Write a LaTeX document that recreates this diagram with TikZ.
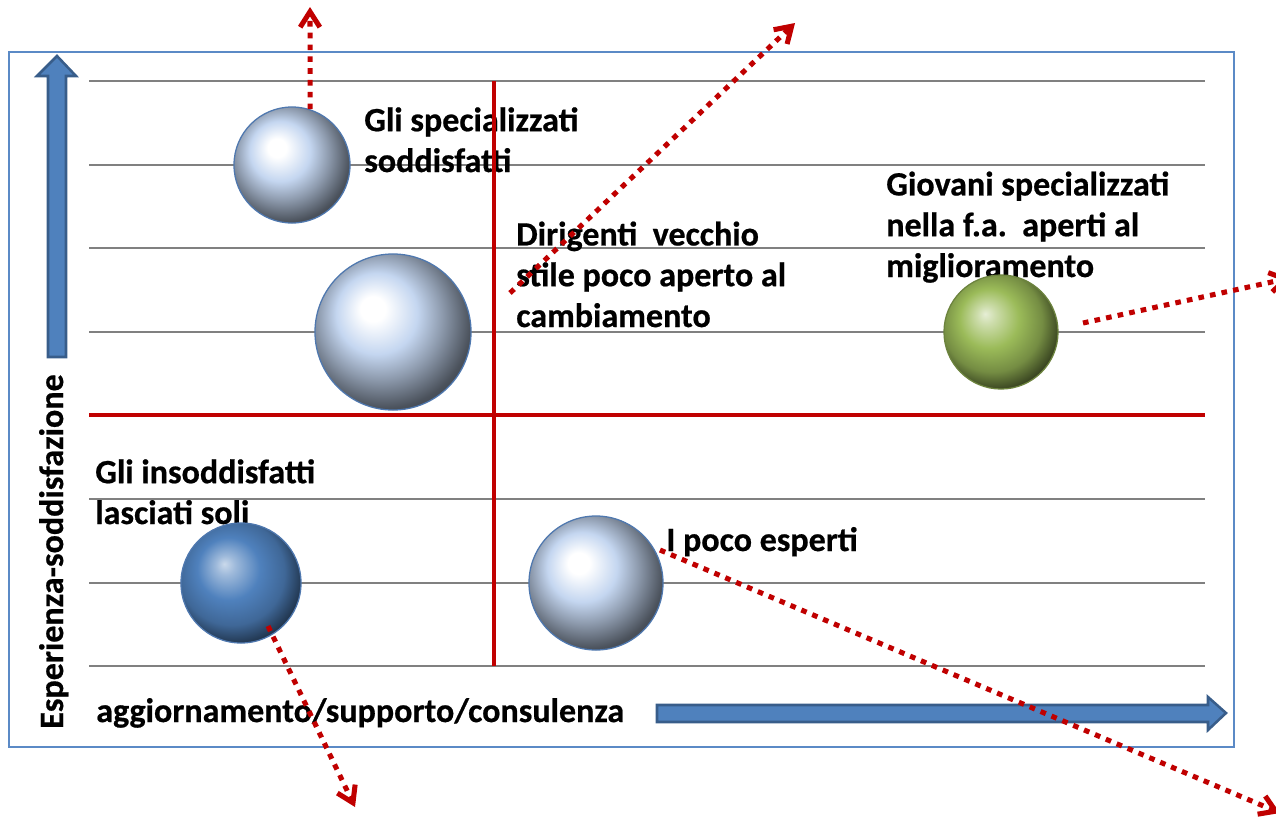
\documentclass[tikz,border=0pt]{standalone}
\usepackage{fontspec}
\setmainfont{Carlito}[BoldFeatures={FakeBold=0.6}]
\usepackage{tikz}
\usetikzlibrary{arrows.meta}

\definecolor{framecol}{RGB}{91,138,198}
\definecolor{gridcol}{RGB}{128,128,128}
\definecolor{quadred}{RGB}{192,0,0}
\definecolor{axisfill}{RGB}{79,129,189}
\definecolor{axisedge}{RGB}{56,93,138}
\definecolor{paleball}{RGB}{196,214,240}
\definecolor{darkball}{RGB}{79,129,189}
\definecolor{greenball}{RGB}{155,187,89}
\definecolor{ballrim}{RGB}{79,120,175}

\pgfdeclareradialshading{paleglass}{\pgfpoint{-7bp}{8bp}}{color(0bp)=(white); color(4bp)=(white);
    color(13bp)=(paleball); color(20bp)=(paleball!72!black); color(28bp)=(paleball!38!black); color(50bp)=(black)}
\pgfdeclareradialshading{darkglass}{\pgfpoint{-7bp}{8bp}}{color(0bp)=(darkball!30!white); color(4bp)=(darkball!55!white);
    color(13bp)=(darkball); color(22bp)=(darkball!80!black); color(30bp)=(darkball!35!black); color(50bp)=(black)}
\pgfdeclareradialshading{greenglass}{\pgfpoint{-7bp}{8bp}}{color(0bp)=(greenball!25!white); color(4bp)=(greenball!50!white);
    color(13bp)=(greenball); color(22bp)=(greenball!75!black); color(30bp)=(greenball!30!black); color(50bp)=(black)}

\begin{document}
\begin{tikzpicture}[x=0.025cm, y=-0.025cm,
    gridline/.style={draw=gridcol, line width=1.5pt},
    quadline/.style={draw=quadred, line width=3.5pt},
    axisarrow/.style={fill=axisfill, draw=axisedge, line width=1.8pt, line join=miter},
    sphere/.style={circle, inner sep=0pt, draw=ballrim, line width=0.9pt, shading=#1},
    lbl/.style={font=\fontsize{24.2}{29}\selectfont\bfseries, inner sep=0pt, align=left, anchor=base west},
    trend/.style={draw=quadred, line width=3.6pt, dash pattern=on 4pt off 4.4pt,
        -{Straight Barb[length=11pt, width=14pt, line width=3.6pt]}}]
    \useasboundingbox (0,0) rectangle (1276,818);
    \draw[draw=framecol, line width=1.2pt] (9,52) rectangle (1234,747);
    \foreach \y in {81,165,248,332,499,583,666}
        \draw[gridline] (89,\y) -- (1205,\y);

    \node[lbl] (tsatisfied) at (364,172) {Gli specializzati\\soddisfatti};
    \node[lbl] (tmanagers) at (516,327) {Dirigenti\ \ vecchio\\stile poco aperto al\\cambiamento};
    \node[lbl] (tyoung) at (886,277) {Giovani specializzati\\nella f.a.\ \ aperti al\\miglioramento};
    \node[lbl] (talone) at (95,524) {Gli insoddisfatti\\lasciati soli};
    \node[lbl] (tnovices) at (666,551) {I poco esperti};
    \node[lbl] (xlabel) at (96,722) {aggiornamento/supporto/consulenza};
    \node[lbl, rotate=90] (ylabel) at (63,729) {Esperienza-soddisfazione};

    \draw[quadline] (89,415) -- (1205,415);
    \draw[quadline] (494,81) -- (494,666);

    \node[sphere=paleglass, minimum size=2.9cm] (satisfied) at (292,165) {};
    \node[sphere=paleglass, minimum size=3.9cm] (managers) at (393,332) {};
    \node[sphere=greenglass, draw=greenball!70!black, minimum size=2.85cm] (young) at (1001,332) {};
    \node[sphere=darkglass, minimum size=3cm] (alone) at (241,583) {};
    \node[sphere=paleglass, minimum size=3.35cm] (novices) at (596,583) {};

    \draw[axisarrow] (48,357) -- (48,76) -- (37,76) -- (57,56) -- (76,76) -- (66,76) -- (66,357) -- cycle;
    \draw[axisarrow] (657,705) -- (1208,705) -- (1208,697) -- (1226,713) -- (1208,730) -- (1208,722) -- (657,722) -- cycle;

    \coordinate (upA) at (310,7);
    \coordinate (fromB) at (510,293);
    \coordinate (upB) at (795,23);
    \coordinate (fromC) at (1083,323);
    \coordinate (rightC) at (1290,278);
    \coordinate (fromD) at (268,626);
    \coordinate (downD) at (355,807);
    \coordinate (fromE) at (660,550);
    \coordinate (downE) at (1280,813);
    \draw[trend] (satisfied.72) -- (upA);
    \draw[trend] (fromB) -- (upB);
    \draw[trend] (fromC) -- (rightC);
    \draw[trend] (fromD) -- (downD);
    \draw[trend] (fromE) -- (downE);
\end{tikzpicture}
\end{document}
